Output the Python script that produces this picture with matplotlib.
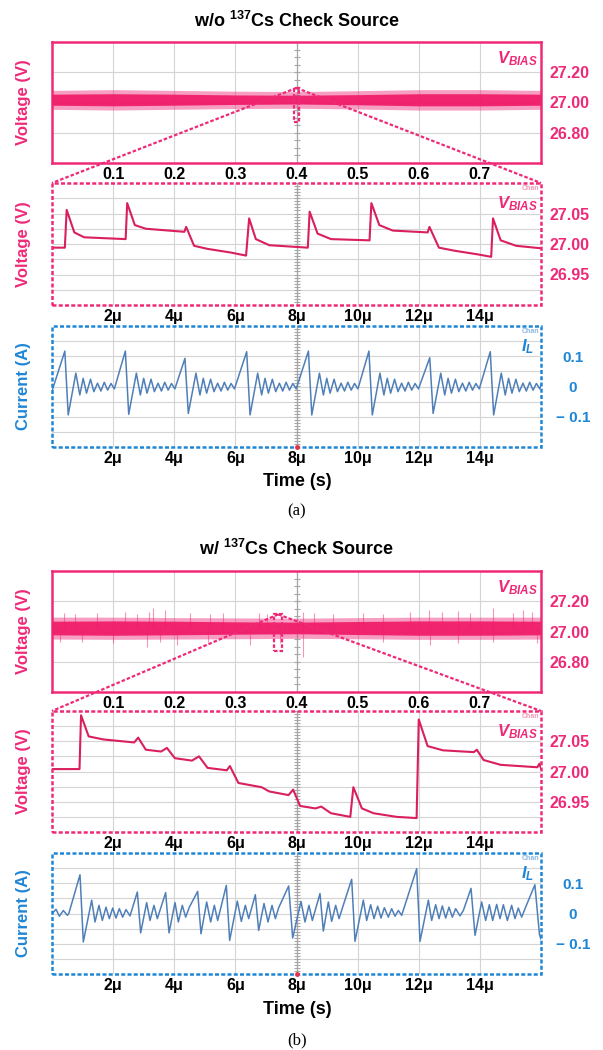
import matplotlib
matplotlib.use("Agg")
import matplotlib.pyplot as plt
import numpy as np
from matplotlib.patches import Rectangle
from matplotlib.lines import Line2D

plt.rcParams['font.family'] = ['Liberation Sans', 'DejaVu Sans']
plt.rcParams['font.weight'] = 'bold'
plt.rcParams['mathtext.fontset'] = 'custom'
plt.rcParams['mathtext.it'] = 'Liberation Sans:italic:bold'
plt.rcParams['mathtext.rm'] = 'Liberation Sans:bold'
plt.rcParams['mathtext.bf'] = 'Liberation Sans:bold'

PINK = '#EE2A78'
TRACE_V = '#D91F5C'
BLUE = '#1F86D6'
TRACE_I = '#4F7FB8'
GRID = '#D4D4D4'
CENTER = '#A6A6A6'

# ---------------- data ----------------
# overview (0 .. 0.8) : envelope of the V_BIAS noise band
TOP_X = [0.0, 0.1, 0.2, 0.3, 0.4, 0.5, 0.6, 0.7, 0.8]
TOPA_OUT_HI = [27.080, 27.085, 27.080, 27.075, 27.072, 27.078, 27.085, 27.085, 27.080]
TOPA_OUT_LO = [26.955, 26.950, 26.955, 26.960, 26.962, 26.957, 26.950, 26.950, 26.955]
TOPA_IN_HI = [27.055, 27.058, 27.055, 27.050, 27.048, 27.052, 27.058, 27.058, 27.055]
TOPA_IN_LO = [26.982, 26.978, 26.982, 26.987, 26.990, 26.985, 26.978, 26.978, 26.982]

TOPB_OUT_HI = [27.095, 27.095, 27.092, 27.090, 27.088, 27.092, 27.095, 27.095, 27.095]
TOPB_OUT_LO = [26.950, 26.948, 26.950, 26.952, 26.955, 26.952, 26.948, 26.948, 26.950]
TOPB_IN_HI = [27.068, 27.070, 27.068, 27.064, 27.062, 27.066, 27.070, 27.070, 27.068]
TOPB_IN_LO = [26.978, 26.975, 26.978, 26.982, 26.985, 26.980, 26.975, 26.975, 26.978]

# radiation induced spikes (w/ source)
SPK_UP_X = [0.019, 0.038, 0.073, 0.119, 0.139, 0.158, 0.166, 0.185, 0.226, 0.258,
            0.280, 0.338, 0.351, 0.411, 0.428, 0.460, 0.509, 0.542, 0.586, 0.616,
            0.638, 0.665, 0.684, 0.722, 0.755, 0.771, 0.785]
SPK_UP_V = [27.124, 27.118, 27.124, 27.131, 27.118, 27.131, 27.154, 27.140, 27.124, 27.118,
            27.124, 27.124, 27.118, 27.131, 27.124, 27.118, 27.124, 27.118, 27.131, 27.140,
            27.131, 27.136, 27.124, 27.154, 27.124, 27.140, 27.131]
SPK_DN_X = [0.013, 0.049, 0.100, 0.155, 0.177, 0.204, 0.256, 0.324, 0.373, 0.411,
            0.542, 0.618, 0.665, 0.722, 0.793]
SPK_DN_V = [26.932, 26.928, 26.921, 26.898, 26.932, 26.910, 26.928, 26.910, 26.921, 26.830,
            26.928, 26.910, 26.921, 26.928, 26.921]

# zoomed V_BIAS (time in us)
VA_T = [0.0, 0.42, 0.48, 0.73, 1.05, 2.41, 2.46, 2.71, 3.07, 4.33, 4.39, 4.65, 5.09, 5.85,
        6.35, 6.45, 6.67, 7.11, 8.37, 8.43, 8.69, 9.13, 10.39, 10.45, 10.71, 11.15, 12.29,
        12.35, 12.66, 13.17, 13.93, 14.37, 14.43, 14.68, 15.19, 16.0]
VA_V = [26.994, 26.994, 27.056, 27.019, 27.011, 27.008, 27.067, 27.031, 27.025, 27.020,
        27.028, 26.997, 26.992, 26.986, 26.981, 27.042, 27.008, 26.998, 26.994, 27.053,
        27.017, 27.008, 27.006, 27.067, 27.031, 27.022, 27.019, 27.028, 26.994, 26.989,
        26.983, 26.979, 27.042, 27.006, 26.997, 26.993]

VB_T = [0.0, 0.90, 0.95, 1.20, 1.68, 2.69, 2.82, 3.07, 3.57, 3.76, 4.02, 4.58, 4.81, 5.09,
        5.72, 5.82, 6.10, 6.86, 7.11, 7.74, 7.89, 8.12, 8.62, 8.81, 9.13, 9.76, 9.86, 10.14,
        10.52, 11.28, 11.93, 12.00, 12.29, 12.79, 13.80, 13.90, 14.12, 14.68, 15.88, 15.95, 16.0]
VB_V = [27.004, 27.004, 27.093, 27.058, 27.053, 27.048, 27.056, 27.036, 27.033, 27.039,
        27.022, 27.018, 27.025, 27.006, 27.002, 27.009, 26.981, 26.974, 26.967, 26.961,
        26.970, 26.943, 26.939, 26.942, 26.931, 26.925, 26.974, 26.939, 26.931, 26.925,
        26.923, 27.086, 27.042, 27.035, 27.032, 27.036, 27.019, 27.011, 27.007, 27.013, 27.005]

# inductor current w/o source: one switching event, repeated at each event
IL_A_START = -0.015
IL_A_PEAK_T = [0.42, 2.40, 4.35, 6.37, 8.39, 10.37, 12.36, 14.34]
IL_A_PEAK_V = [0.117, 0.117, 0.093, 0.115, 0.117, 0.117, 0.095, 0.115]
IL_A_TROUGH_V = [-0.094, -0.092, -0.089, -0.094, -0.094, -0.094, -0.089, -0.094]
IL_A_TROUGH_DT = 0.11
IL_A_RING_DT = [0.36, 0.49, 0.60, 0.71, 0.84, 0.95, 1.07, 1.18, 1.29, 1.40, 1.51, 1.62]
IL_A_RING_V = [0.044, -0.028, 0.027, -0.022, 0.024, -0.017, 0.011, -0.015, 0.014, -0.012,
               0.010, -0.008]
IL_A_END = 0.005

# inductor current w/ source
IB_T = [0.0, 0.131, 0.240, 0.371, 0.502, 0.55, 0.916, 1.025, 1.298, 1.407, 1.538, 1.647,
        1.767, 1.876, 1.985, 2.094, 2.203, 2.312, 2.421, 2.552, 2.792, 2.901, 3.098, 3.207,
        3.337, 3.446, 3.719, 3.828, 4.025, 4.134, 4.264, 4.374, 4.494, 4.766, 4.875, 5.061,
        5.192, 5.312, 5.421, 5.704, 5.813, 6.064, 6.195, 6.326, 6.435, 6.653, 6.762, 6.937,
        7.068, 7.199, 7.308, 7.417, 7.744, 7.875, 8.147, 8.278, 8.409, 8.518, 8.769, 8.878,
        9.042, 9.151, 9.282, 9.391, 9.565, 9.805, 9.914, 10.187, 10.296, 10.427, 10.536,
        10.656, 10.765, 10.874, 11.005, 11.114, 11.223, 11.332, 11.441, 11.932, 12.041,
        12.314, 12.423, 12.554, 12.663, 12.772, 12.881, 12.990, 13.099, 13.208, 13.350,
        13.459, 13.710, 13.841, 14.059, 14.190, 14.310, 14.419, 14.550, 14.659, 14.768,
        14.899, 15.040, 15.149, 15.258, 15.368, 15.477, 15.800, 15.950, 16.0]
IB_V = [-0.001, 0.014, -0.009, 0.010, -0.006, 0.0, 0.128, -0.094, 0.044, -0.028, 0.027, -0.023,
        0.021, -0.017, 0.018, -0.015, 0.016, -0.012, 0.013, -0.008, 0.071, -0.064, 0.036, -0.023,
        0.027, -0.017, 0.069, -0.064, 0.036, -0.028, 0.027, -0.012, 0.021, 0.073, -0.067, 0.038,
        -0.028, 0.027, -0.023, 0.093, -0.089, 0.041, -0.026, 0.027, -0.017, 0.062, -0.056, 0.033,
        -0.028, 0.027, -0.017, 0.019, 0.091, -0.081, 0.040, -0.028, 0.027, -0.023, 0.066, -0.058,
        0.038, -0.026, 0.027, -0.017, 0.038, 0.113, -0.092, 0.044, -0.023, 0.029, -0.017,
        0.024, -0.015, 0.019, -0.012, 0.016, -0.009, 0.010, -0.006, 0.148, -0.092,
        0.044, -0.023, 0.029, -0.017, 0.025, -0.015, 0.021, -0.012, 0.016, -0.008,
        0.010, 0.083, -0.072, 0.038, -0.023, 0.029, -0.023, 0.030, -0.017, 0.029,
        -0.023, 0.027, -0.017, 0.018, -0.012, 0.016, 0.095, -0.070, -0.085]

TOP_XT = [0.1, 0.2, 0.3, 0.4, 0.5, 0.6, 0.7]
TOP_YT = [26.8, 27.0, 27.2]
TOP_YL = ['26.80', '27.00', '27.20']
US_XT = [2, 4, 6, 8, 10, 12, 14]
US_XL = ['2\u03bc', '4\u03bc', '6\u03bc', '8\u03bc', '10\u03bc', '12\u03bc', '14\u03bc']
MID_YT = [26.95, 27.00, 27.05]
MID_YL = ['26.95', '27.00', '27.05']
MID_YMINOR = [26.925, 26.975, 27.025, 27.075]
CUR_YT = [-0.1, 0.0, 0.1]
CUR_YL = ['\u2212 0.1', '0', '0.1']
CUR_YMINOR = [-0.15, -0.05, 0.05, 0.15]

DASH = (0, (1.6, 0.9))


def build_il_a():
    t = [0.0]
    v = [IL_A_START]
    for tp, vp, vt in zip(IL_A_PEAK_T, IL_A_PEAK_V, IL_A_TROUGH_V):
        t += [tp, tp + IL_A_TROUGH_DT] + [tp + d for d in IL_A_RING_DT]
        v += [vp, vt] + IL_A_RING_V
    t.append(16.0)
    v.append(IL_A_END)
    return t, v


def common(ax, ylab, ycol):
    ax.yaxis.tick_right()
    ax.yaxis.set_label_position('left')
    ax.set_ylabel(ylab, color=ycol, fontsize=12, fontweight='bold')
    ax.yaxis.set_label_coords(-0.042, 0.5)
    ax.tick_params(which='both', length=0)
    ax.tick_params(axis='x', pad=3, labelsize=11.5, labelcolor='black')
    ax.grid(True, which='both', color=GRID, lw=0.8)
    ax.set_axisbelow(True)


def dashed_frame(ax, col):
    for s in ax.spines.values():
        s.set_visible(False)
    ax.add_patch(Rectangle((0, 0), 1, 1, transform=ax.transAxes, fill=False, ec=col,
                           lw=1.8, ls=DASH, clip_on=False, zorder=6))


def center_line(ax, x0, ticks):
    ax.axvline(x0, color=CENTER, lw=0.9, zorder=1)
    ax.plot([x0] * len(ticks), ticks, ls='none', marker='_', ms=5, mew=0.8,
            color=CENTER, zorder=1)


def top_panel(ax, out_hi, out_lo, in_hi, in_lo, rect, spikes=None):
    ax.set_xlim(0, 0.8)
    ax.set_ylim(26.6, 27.4)
    ax.set_xticks(TOP_XT)
    ax.set_xticklabels([str(x) for x in TOP_XT])
    ax.set_yticks(TOP_YT)
    ax.set_yticklabels(TOP_YL)
    common(ax, 'Voltage (V)', PINK)
    ax.tick_params(axis='y', pad=6, labelsize=11.5, labelcolor=PINK)
    for s in ax.spines.values():
        s.set_color(PINK)
        s.set_linewidth(1.8)
    center_line(ax, 0.4, np.arange(26.65, 27.40, 0.05))
    if spikes is not None:
        ux, uv, dx, dv = spikes
        ax.vlines(ux, 27.02, uv, colors=PINK, alpha=0.5, lw=0.8, zorder=2)
        ax.vlines(dx, 27.02, dv, colors=PINK, alpha=0.5, lw=0.8, zorder=2)
    ax.fill_between(TOP_X, out_lo, out_hi, color=PINK, alpha=0.45, lw=0, zorder=3)
    ax.fill_between(TOP_X, in_lo, in_hi, color='#F01E6A', alpha=0.95, lw=0, zorder=3)
    ax.add_patch(Rectangle((rect[0], rect[1]), rect[2], rect[3], fill=False, ec=PINK,
                           lw=1.6, ls=DASH, zorder=7))
    ax.text(0.994, 0.94, r'$V_{BIAS}$', transform=ax.transAxes, ha='right', va='top',
            color=PINK, fontsize=12)


def mid_panel(ax, t, v):
    ax.set_xlim(0, 16)
    ax.set_ylim(26.90, 27.10)
    ax.set_xticks(US_XT)
    ax.set_xticklabels(US_XL)
    ax.set_yticks(MID_YT)
    ax.set_yticklabels(MID_YL)
    ax.set_yticks(MID_YMINOR, minor=True)
    common(ax, 'Voltage (V)', PINK)
    ax.tick_params(axis='y', pad=6, labelsize=11.5, labelcolor=PINK)
    dashed_frame(ax, PINK)
    center_line(ax, 8, np.arange(26.905, 27.10, 0.005))
    ax.plot(t, v, color=TRACE_V, lw=1.5, zorder=4)
    ax.text(0.994, 0.91, r'$V_{BIAS}$', transform=ax.transAxes, ha='right', va='top',
            color=PINK, fontsize=12)
    ax.text(0.997, 0.985, 'Chan', transform=ax.transAxes, ha='right', va='top',
            color='#F29AB8', fontsize=5)


def cur_panel(ax, t, v):
    ax.set_xlim(0, 16)
    ax.set_ylim(-0.2, 0.2)
    ax.set_xticks(US_XT)
    ax.set_xticklabels(US_XL)
    ax.set_yticks(CUR_YT)
    ax.set_yticklabels(CUR_YL)
    ax.set_yticks(CUR_YMINOR, minor=True)
    common(ax, 'Current (A)', BLUE)
    ax.tick_params(axis='y', pad=23, labelsize=11, labelcolor=BLUE)
    for lab in ax.get_yticklabels():
        lab.set_horizontalalignment('center')
    dashed_frame(ax, BLUE)
    center_line(ax, 8, np.arange(-0.19, 0.2, 0.01))
    ax.plot(t, v, color=TRACE_I, lw=1.1, zorder=4)
    ax.plot([8], [-0.2], ls='none', marker='o', ms=2.5, color='#E8304A', zorder=7,
            clip_on=False)
    ax.text(0.985, 0.91, r'$I_L$', transform=ax.transAxes, ha='right', va='top',
            color=BLUE, fontsize=12)
    ax.text(0.997, 0.985, 'Chan', transform=ax.transAxes, ha='right', va='top',
            color='#8DB8E0', fontsize=5)


def zoom_lines(fig, ax_top, ax_mid, apex):
    inv = fig.transFigure.inverted()
    a = inv.transform(ax_top.transData.transform(apex))
    for corner in [(0, 1), (1, 1)]:
        c = inv.transform(ax_mid.transAxes.transform(corner))
        fig.add_artist(Line2D([a[0], c[0]], [a[1], c[1]], transform=fig.transFigure,
                              color=PINK, lw=1.6, ls=DASH, zorder=8))


fig = plt.figure(figsize=(6.03, 10.5), dpi=100)
H = 1050.0
L = 52 / 603.0
W = 489 / 603.0


def box(top_px, bot_px):
    return [L, 1 - bot_px / H, W, (bot_px - top_px) / H]


axA1 = fig.add_axes(box(42, 163))
axA2 = fig.add_axes(box(183, 305))
axA3 = fig.add_axes(box(326, 447))
axB1 = fig.add_axes(box(571, 692))
axB2 = fig.add_axes(box(711, 832))
axB3 = fig.add_axes(box(853, 974))

top_panel(axA1, TOPA_OUT_HI, TOPA_OUT_LO, TOPA_IN_HI, TOPA_IN_LO,
          (0.396, 26.87, 0.008, 0.226))
mid_panel(axA2, VA_T, VA_V)
ia_t, ia_v = build_il_a()
cur_panel(axA3, ia_t, ia_v)
zoom_lines(fig, axA1, axA2, (0.400, 27.096))

top_panel(axB1, TOPB_OUT_HI, TOPB_OUT_LO, TOPB_IN_HI, TOPB_IN_LO,
          (0.363, 26.87, 0.013, 0.243), spikes=(SPK_UP_X, SPK_UP_V, SPK_DN_X, SPK_DN_V))
mid_panel(axB2, VB_T, VB_V)
cur_panel(axB3, IB_T, IB_V)
zoom_lines(fig, axB1, axB2, (0.370, 27.113))

fig.text(0.4925, 1 - 21 / H, r'w/o $^{137}$Cs Check Source', ha='center', va='center',
         fontsize=13, fontweight='bold')
fig.text(0.4925, 1 - 549 / H, r'w/ $^{137}$Cs Check Source', ha='center', va='center',
         fontsize=13, fontweight='bold')
fig.text(0.4925, 1 - 482 / H, 'Time (s)', ha='center', va='center', fontsize=13,
         fontweight='bold')
fig.text(0.4925, 1 - 1010 / H, 'Time (s)', ha='center', va='center', fontsize=13,
         fontweight='bold')
fig.text(0.4925, 1 - 511 / H, '(a)', ha='center', va='center', fontsize=12,
         fontweight='normal', family=['Liberation Serif', 'DejaVu Serif'])
fig.text(0.4925, 1 - 1040 / H, '(b)', ha='center', va='center', fontsize=12,
         fontweight='normal', family=['Liberation Serif', 'DejaVu Serif'])

fig.savefig('out.png', dpi=100, facecolor='white')
